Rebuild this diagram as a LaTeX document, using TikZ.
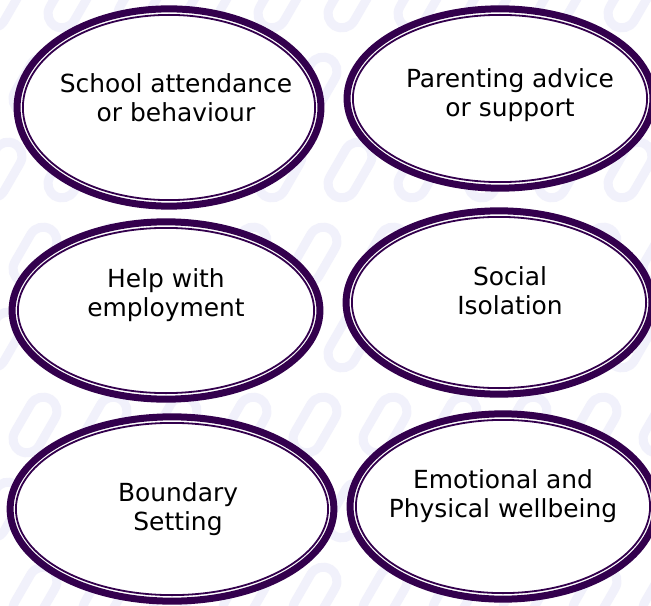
\documentclass[tikz,border=0pt]{standalone}
\usepackage{fontspec}
\setmainfont{DejaVu Sans}
\usetikzlibrary{shapes.geometric}
\definecolor{ringc}{HTML}{33004D}
\definecolor{linkc}{HTML}{F1F1FB}
\begin{document}
\begin{tikzpicture}[x=1bp, y=-1bp]
    \tikzstyle{ring} = [ellipse, draw=ringc, line width=7bp, fill=white, inner sep=0pt]
    \tikzstyle{innerring} = [draw=ringc, line width=1.8bp]
    \tikzstyle{ringtext} = [align=center, inner sep=0pt, font=\fontsize{25}{29}\selectfont]
    \tikzstyle{linkshape} = [draw=linkc, line width=9bp, rounded corners=14bp]
    \useasboundingbox (0,0) rectangle (651,606);
    \clip (0,0) rectangle (651,606);
    \fill[white] (0,0) rectangle (651,606);
    \foreach \x in {0,...,9} {
        \foreach \y in {0,...,7} {
            \begin{scope}[shift={({\x*70+mod(\y,2)*35}, {\y*85})}, rotate=60]
                \draw[linkshape] (-30,-14) rectangle (30,14);
            \end{scope}
        }
    }
    \node[ring, minimum width=305, minimum height=198] (attend) at (169,107.5) {};
    \node[ring, minimum width=307, minimum height=180] (parent) at (500,98.5) {};
    \node[ring, minimum width=309, minimum height=178] (employ) at (166,310.5) {};
    \node[ring, minimum width=307, minimum height=184] (social) at (499,302.5) {};
    \node[ring, minimum width=325, minimum height=185] (bound) at (172,509) {};
    \node[ring, minimum width=307, minimum height=186] (emot) at (503,506.5) {};
    \foreach \n/\a/\b in {attend/152.5/99, parent/153.5/90, employ/154.5/89, social/153.5/92, bound/162.5/92.5, emot/153.5/93} {
        \draw[innerring] (\n.center) ellipse ({\a-6.4} and {\b-6.4});
    }
    \node[ringtext] (attendtxt) at (176,98) {School attendance\\or behaviour};
    \node[ringtext] (parenttxt) at (510,95) {Parenting advice\\or support};
    \node[ringtext] (employtxt) at (166,295) {Help with\\employment};
    \node[ringtext] (socialtxt) at (510,291) {Social\\Isolation};
    \node[ringtext] (boundtxt) at (178,509) {Boundary\\Setting};
    \node[ringtext] (emottxt) at (503,496) {Emotional and\\Physical wellbeing};
\end{tikzpicture}
\end{document}
